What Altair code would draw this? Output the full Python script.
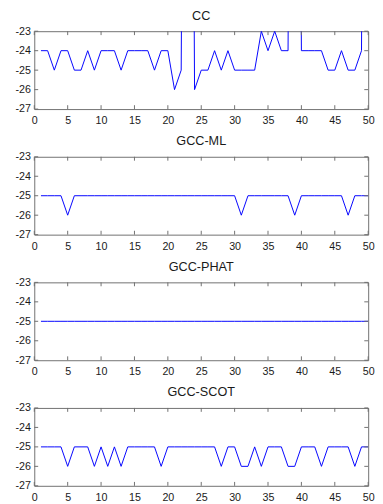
import altair as alt
import pandas as pd

x_vals = list(range(1, 51))

titles = ["CC", "GCC-ML", "GCC-PHAT", "GCC-SCOT"]

cc = [-24, -24, -25, -24, -24, -25, -25, -24, -25, -24,
      -24, -24, -25, -24, -24, -24, -24, -25, -24, -24,
      -26, -25, 40, -26, -25, -25, -24, -25, -24, -25,
      -25, -25, -25, -23, -24, -23, -24, -24, 40, -24,
      -24, -24, -24, -25, -25, -24, -25, -25, -24, 40]

gcc_ml = [-25, -25, -25, -25, -26, -25, -25, -25, -25, -25,
          -25, -25, -25, -25, -25, -25, -25, -25, -25, -25,
          -25, -25, -25, -25, -25, -25, -25, -25, -25, -25,
          -26, -25, -25, -25, -25, -25, -25, -25, -26, -25,
          -25, -25, -25, -25, -25, -25, -26, -25, -25, -25]

gcc_phat = [-25, -25, -25, -25, -25, -25, -25, -25, -25, -25,
            -25, -25, -25, -25, -25, -25, -25, -25, -25, -25,
            -25, -25, -25, -25, -25, -25, -25, -25, -25, -25,
            -25, -25, -25, -25, -25, -25, -25, -25, -25, -25,
            -25, -25, -25, -25, -25, -25, -25, -25, -25, -25]

gcc_scot = [-25, -25, -25, -25, -26, -25, -25, -25, -26, -25,
            -26, -25, -26, -25, -25, -25, -25, -25, -26, -25,
            -25, -25, -25, -25, -25, -25, -25, -26, -25, -25,
            -26, -26, -25, -26, -25, -25, -25, -26, -26, -25,
            -25, -25, -26, -25, -25, -25, -25, -26, -25, -25]

series = [cc, gcc_ml, gcc_phat, gcc_scot]

x_ticks = [0, 5, 10, 15, 20, 25, 30, 35, 40, 45, 50]
y_ticks = [-27, -26, -25, -24, -23]

FONT = "Liberation Sans"
TXT = "#1a1a1a"
AXC = "#6f6f6f"
W, H = 343, 80


def x_axis():
    return alt.Axis(values=x_ticks, ticks=False, domain=False, grid=False,
                    labelPadding=6, title=None, labelFont=FONT, labelFontSize=11,
                    labelColor=TXT, labelOverlap=False, labelFlush=False,
                    labelExpr="'' + datum.value")


def y_axis():
    return alt.Axis(values=y_ticks, ticks=False, domain=False, grid=False,
                    labelPadding=4, title=None, labelFont=FONT, labelFontSize=11,
                    labelColor=TXT, minExtent=26, maxExtent=26, labelOverlap=False,
                    labelFlush=False, labelExpr="'' + datum.value")


def panel(title, vals):
    df = pd.DataFrame({"x": x_vals, "v": vals})
    xt = pd.DataFrame({"x": x_ticks})
    yt = pd.DataFrame({"v": y_ticks})
    xs = alt.Scale(domain=[0, 50], nice=False, zero=False)
    ys = alt.Scale(domain=[-27, -23], nice=False, zero=False)

    main = alt.Chart(df).mark_line(color="#0000ff", strokeWidth=1, clip=True).encode(
        x=alt.X("x:Q", scale=xs, axis=x_axis()),
        y=alt.Y("v:Q", scale=ys, axis=y_axis()),
    )

    xb = alt.Chart(xt).mark_rule(color=AXC, strokeWidth=1).encode(
        x=alt.X("x:Q", scale=xs, axis=x_axis()), y=alt.value(H - 4), y2=alt.value(H))
    xtp = alt.Chart(xt).mark_rule(color=AXC, strokeWidth=1).encode(
        x=alt.X("x:Q", scale=xs, axis=x_axis()), y=alt.value(0), y2=alt.value(4))
    yl = alt.Chart(yt).mark_rule(color=AXC, strokeWidth=1).encode(
        y=alt.Y("v:Q", scale=ys, axis=y_axis()), x=alt.value(0), x2=alt.value(4))
    yr = alt.Chart(yt).mark_rule(color=AXC, strokeWidth=1).encode(
        y=alt.Y("v:Q", scale=ys, axis=y_axis()), x=alt.value(W - 4), x2=alt.value(W))

    return alt.layer(main, xb, xtp, yl, yr).properties(
        width=W, height=H,
        title=alt.TitleParams(text=title, fontSize=13, fontWeight="normal",
                              font=FONT, color=TXT, offset=3, anchor="middle"),
    )


chart = alt.vconcat(
    *[panel(t, s) for t, s in zip(titles, series)],
    spacing=8,
).properties(
    padding={"left": 0, "top": -6, "right": 0, "bottom": 0},
).configure_view(stroke=AXC, strokeWidth=1)

chart.save("out.html", embed_options={"renderer": "svg", "actions": False})
